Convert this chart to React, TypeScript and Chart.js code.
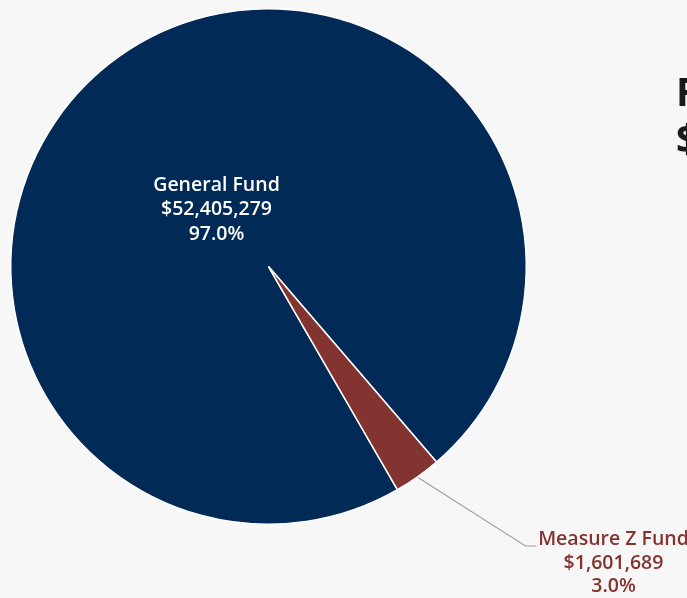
import React, { useEffect, useRef } from "react";
import { Chart, registerables } from "chart.js";

Chart.register(...registerables);

const categories = ["General Fund", "Measure Z Fund"];
const values = [52405279, 1601689];
const percentLabels = ["97.0%", "3.0%"];
const valueLabels = ["$52,405,279", "$1,601,689"];
const titleLines = ["Fund Sources", "$54,006,968"];
const colors = ["#012a57", "#833430"];
const labelColors = ["#ffffff", "#833430"];

const FONT = "'Open Sans', 'Noto Sans', sans-serif";

const labelPlugin = {
  id: "pieLabels",
  afterDatasetsDraw(chart: any) {
    const ctx = chart.ctx;
    const meta = chart.getDatasetMeta(0);
    ctx.save();
    meta.data.forEach((arc: any, i: number) => {
      const { x, y, startAngle, endAngle, outerRadius } = arc.getProps(
        ["x", "y", "startAngle", "endAngle", "outerRadius"],
        true
      );
      const mid = (startAngle + endAngle) / 2;
      const lines = [categories[i], valueLabels[i], percentLabels[i]];
      ctx.font = `600 19.5px ${FONT}`;
      ctx.fillStyle = labelColors[i];
      ctx.textAlign = "center";
      ctx.textBaseline = "middle";
      if (i === 0) {
        const lx = x - 52;
        const ly = y - 57;
        lines.forEach((t, k) => ctx.fillText(t, lx, ly + (k - 1) * 24.5));
      } else {
        const sx = x + Math.cos(mid) * outerRadius * 1.005;
        const sy = y + Math.sin(mid) * outerRadius * 1.005;
        const ex = x + 257;
        const ey = y + 279.5;
        ctx.strokeStyle = "#a0a0a0";
        ctx.lineWidth = 1.2;
        ctx.beginPath();
        ctx.moveTo(sx, sy);
        ctx.lineTo(ex, ey);
        ctx.lineTo(ex + 11, ey);
        ctx.stroke();
        const lx = x + 345;
        const ly = y + 296.5;
        lines.forEach((t, k) => ctx.fillText(t, lx, ly + (k - 1) * 23.5));
      }
    });
    ctx.font = `700 39px ${FONT}`;
    ctx.fillStyle = "#1a1a1a";
    ctx.textAlign = "left";
    ctx.textBaseline = "alphabetic";
    ctx.fillText(titleLines[0], 676, 106);
    ctx.fillText(titleLines[1], 676, 153);
    ctx.restore();
  },
};

export default function App() {
  const ref = useRef<HTMLCanvasElement | null>(null);
  useEffect(() => {
    document.body.style.margin = "0";
    document.body.style.background = "#f7f7f7";
    const chart = new Chart(ref.current as HTMLCanvasElement, {
      type: "pie",
      data: {
        labels: categories,
        datasets: [
          {
            data: values,
            backgroundColor: colors,
            borderColor: "#ffffff",
            borderWidth: 1.5,
            hoverOffset: 0,
          },
        ],
      },
      options: {
        responsive: false,
        animation: false,
        rotation: 150,
        layout: { padding: { left: 10, top: 8, right: 160, bottom: 73 } },
        plugins: {
          legend: { display: false },
          tooltip: { enabled: false },
          title: { display: false },
        },
      },
      plugins: [labelPlugin],
    });
    return () => chart.destroy();
  }, []);
  return (
    <div style={{ width: 687, height: 598, background: "#f7f7f7" }}>
      <canvas ref={ref} width={687} height={598} style={{ display: "block" }} />
    </div>
  );
}
